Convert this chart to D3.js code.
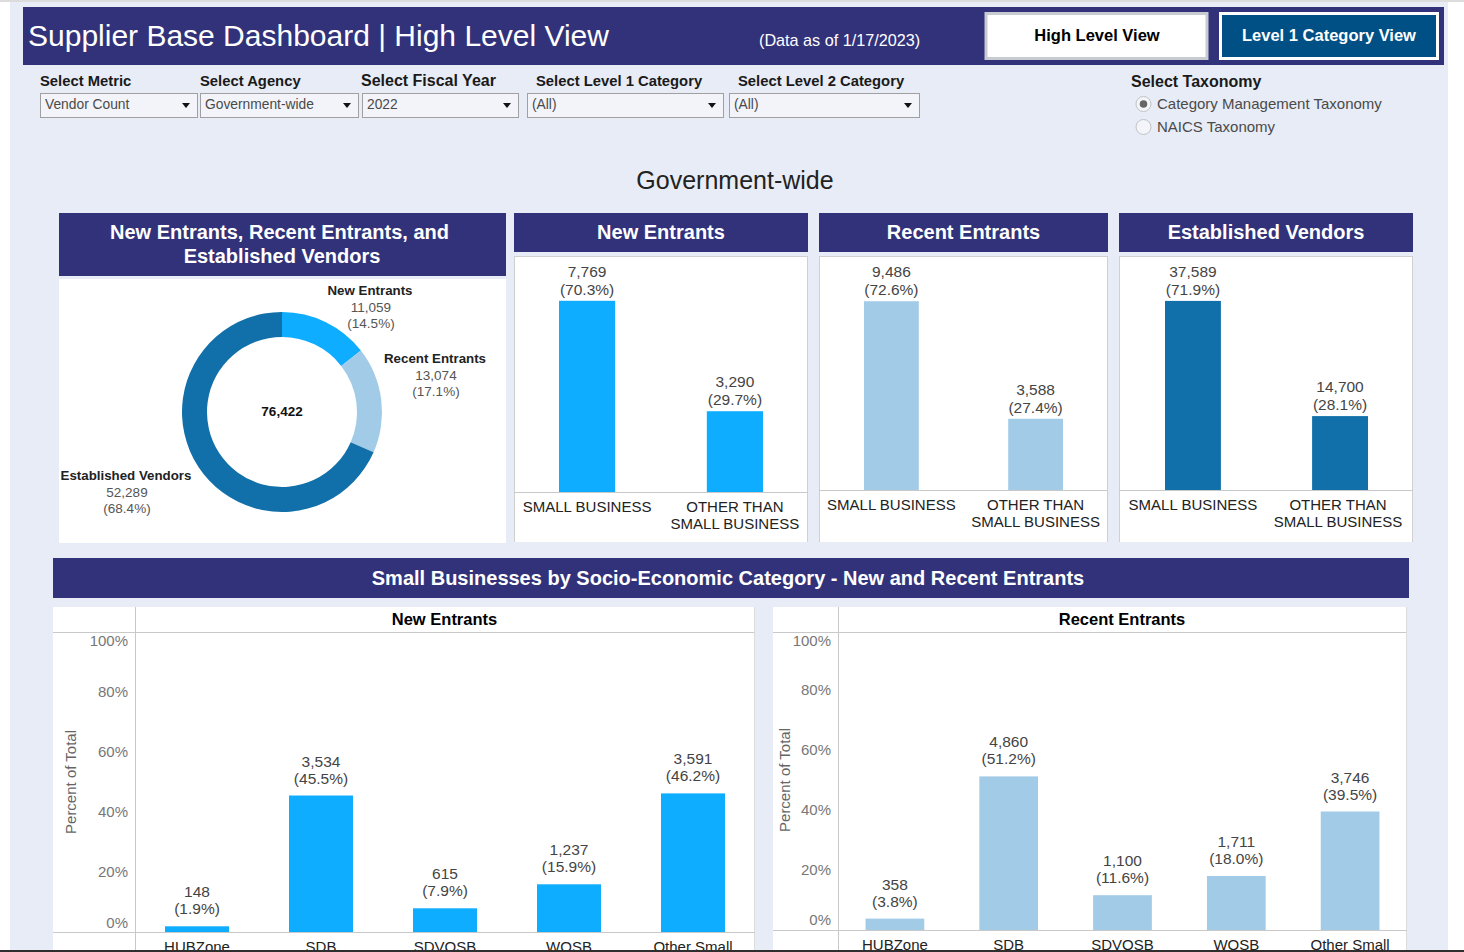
<!DOCTYPE html>
<html>
<head>
<meta charset="utf-8">
<title>Supplier Base Dashboard</title>
<script src="https://cdn.jsdelivr.net/npm/d3@7"></script>
<style>
  html, body { margin: 0; padding: 0; background: #fff; overflow: hidden; }
  svg { display: block; font-family: "Liberation Sans", Arial, sans-serif; }
</style>
</head>
<body>
<svg id="dash" width="1464" height="952"></svg>
<script>
// ---- Data ----
const donutNames = ["New Entrants", "Recent Entrants", "Established Vendors"];
const donutCounts = [11059, 13074, 52289];
const donutShares = ["14.5%", "17.1%", "68.4%"];
const donutTotal = "76,422";

const sizeCats = ["SMALL BUSINESS", "OTHER THAN SMALL BUSINESS"];
const newSizeCounts = [7769, 3290];
const newSizePct = [70.3, 29.7];
const recentSizeCounts = [9486, 3588];
const recentSizePct = [72.6, 27.4];
const estSizeCounts = [37589, 14700];
const estSizePct = [71.9, 28.1];

const socioCats = ["HUBZone", "SDB", "SDVOSB", "WOSB", "Other Small"];
const newSocioCounts = [148, 3534, 615, 1237, 3591];
const newSocioPct = [1.9, 45.5, 7.9, 15.9, 46.2];
const recentSocioCounts = [358, 4860, 1100, 1711, 3746];
const recentSocioPct = [3.8, 51.2, 11.6, 18.0, 39.5];
const pctTicks = [0, 20, 40, 60, 80, 100];

const filterLabels = ["Select Metric", "Select Agency", "Select Fiscal Year", "Select Level 1 Category", "Select Level 2 Category"];
const filterValues = ["Vendor Count", "Government-wide", "2022", "(All)", "(All)"];
const taxonomyOptions = ["Category Management Taxonomy", "NAICS Taxonomy"];

// ---- Colors ----
const NAVY = "#32327a";
const BRIGHT = "#0eadff";
const PALE = "#a2cbe8";
const DEEP = "#1170aa";
const RULE = "#c9c9c9";
const fmt = d3.format(",");

const svg = d3.select("#dash");

function rect(parent, x, y, w, h, fill, stroke, sw) {
  return parent.append("rect").attr("x", x).attr("y", y).attr("width", w).attr("height", h)
    .attr("fill", fill).attr("stroke", stroke || "none").attr("stroke-width", sw || 0);
}

function label(parent, x, y, str, size, color, weight, anchor) {
  return parent.append("text").attr("x", x).attr("y", y).text(str)
    .attr("font-size", size).attr("fill", color)
    .attr("font-weight", weight || "normal")
    .attr("text-anchor", anchor || "start");
}

// ---- Page background + top bar ----
rect(svg, 0, 0, 1464, 2, "#dcdcdc");
rect(svg, 10, 2, 1438, 948, "#e7ecf6");
rect(svg, 23, 7, 1421, 58, NAVY);
label(svg, 28, 46, "Supplier Base Dashboard | High Level View", 30, "#fff");
label(svg, 759, 46, "(Data as of 1/17/2023)", 16.2, "#fff");

rect(svg, 986, 13.5, 221, 45, "#fff", "#c8cbd2", 3);
label(svg, 1097, 41, "High Level View", 16.5, "#000", "bold", "middle");
rect(svg, 1220.5, 13.5, 217, 45, "#005085", "#fff", 3);
label(svg, 1329, 41, "Level 1 Category View", 16.5, "#fff", "bold", "middle");

// ---- Filter row ----
const filterBoxes = [[40, 158], [200, 159], [362, 157], [527, 197], [729, 191]];
const filterLabelX = [40, 200, 361, 536, 738];
filterLabels.forEach((name, i) => {
  const [bx, bw] = filterBoxes[i];
  label(svg, filterLabelX[i], 86, name, i === 2 ? 16 : 14.8, "#1a1a1a", "bold");
  rect(svg, bx + 0.5, 93.5, bw - 1, 24, "#f2f4fa", "#a0a0a0", 1);
  label(svg, bx + 5, 109, filterValues[i], 13.8, "#4a4a4a");
  const ax = bx + bw - 12;
  svg.append("path").attr("d", `M${ax - 4},103 h8 l-4,5 z`).attr("fill", "#111");
});

label(svg, 1131, 87, "Select Taxonomy", 16, "#1a1a1a", "bold");
taxonomyOptions.forEach((name, i) => {
  const cy = 104 + i * 23;
  svg.append("circle").attr("cx", 1143.5).attr("cy", cy).attr("r", 7.5)
    .attr("fill", "#f4f5fa").attr("stroke", "#c2c2c2").attr("stroke-width", 1);
  if (i === 0) svg.append("circle").attr("cx", 1143.5).attr("cy", cy).attr("r", 3.8).attr("fill", "#666");
  label(svg, 1157, cy + 5, name, 15, "#4a4a4a");
});

label(svg, 735, 189, "Government-wide", 25, "#222", "normal", "middle");

// ---- Donut ----
rect(svg, 59, 213, 447, 63, NAVY);
label(svg, 279.5, 239, "New Entrants, Recent Entrants, and", 20, "#fff", "bold", "middle");
label(svg, 282, 263, "Established Vendors", 20, "#fff", "bold", "middle");
rect(svg, 59, 279, 447, 264, "#fff");

const donutColor = d3.scaleOrdinal().domain(donutNames).range([BRIGHT, PALE, DEEP]);
const pie = d3.pie().sort(null);
const arc = d3.arc().innerRadius(75).outerRadius(100);
const donut = svg.append("g").attr("transform", "translate(282,412)");
donut.selectAll("path")
  .data(pie(donutCounts))
  .join("path")
  .attr("d", arc)
  .attr("fill", (d, i) => donutColor(donutNames[i]));
label(donut, 0, 4, donutTotal, 13.5, "#111", "bold", "middle");

const donutLabelPos = [[370, 295], [435, 363], [126, 480]];
donutNames.forEach((name, i) => {
  const [lx, ly] = donutLabelPos[i];
  label(svg, lx, ly, name, 13.3, "#222", "bold", "middle");
  label(svg, lx + 1, ly + 16.5, fmt(donutCounts[i]), 13.5, "#555", "normal", "middle");
  label(svg, lx + 1, ly + 33, `(${donutShares[i]})`, 13.5, "#555", "normal", "middle");
});

// ---- Small vs other-than-small panels ----
function sizePanel(opts) {
  const { x0, x1, base, pxPerPct, title, counts, pct, color, bars } = opts;
  rect(svg, x0, 213, x1 - x0, 39, NAVY);
  label(svg, (x0 + x1) / 2, 239, title, 20, "#fff", "bold", "middle");
  rect(svg, x0 + 0.5, 256.5, x1 - x0 - 1, 286.5, "#fff", "#d0d0d0", 1);
  svg.append("rect").attr("x", x0).attr("y", 542).attr("width", x1 - x0 + 1).attr("height", 2).attr("fill", "#e7ecf6");

  const x = d3.scaleBand().domain(sizeCats).range(bars).paddingInner(0.62).paddingOuter(0);
  const y = d3.scaleLinear().domain([0, 100]).range([base, base - pxPerPct * 100]);
  const g = svg.append("g");

  g.selectAll("rect")
    .data(sizeCats)
    .join("rect")
    .attr("x", d => x(d))
    .attr("y", (d, i) => y(pct[i]))
    .attr("width", x.bandwidth())
    .attr("height", (d, i) => base - y(pct[i]))
    .attr("fill", color);

  sizeCats.forEach((c, i) => {
    const cx = x(c) + x.bandwidth() / 2;
    label(g, cx, y(pct[i]) - 24, fmt(counts[i]), 15.5, "#444", "normal", "middle");
    label(g, cx, y(pct[i]) - 6, `(${pct[i].toFixed(1)}%)`, 15.5, "#444", "normal", "middle");
  });

  g.append("line").attr("x1", x0).attr("x2", x1).attr("y1", base + 0.5).attr("y2", base + 0.5).attr("stroke", RULE);
  label(g, x(sizeCats[0]) + x.bandwidth() / 2, base + 20, "SMALL BUSINESS", 15, "#222", "normal", "middle");
  label(g, x(sizeCats[1]) + x.bandwidth() / 2 + opts.shift, base + 20, "OTHER THAN", 15, "#222", "normal", "middle");
  label(g, x(sizeCats[1]) + x.bandwidth() / 2 + opts.shift, base + 37, "SMALL BUSINESS", 15, "#222", "normal", "middle");
}

sizePanel({ x0: 514, x1: 808, base: 492, pxPerPct: 2.72, title: "New Entrants",
  counts: newSizeCounts, pct: newSizePct, color: BRIGHT, bars: [559, 763], shift: 0 });
sizePanel({ x0: 819, x1: 1108, base: 490, pxPerPct: 2.6, title: "Recent Entrants",
  counts: recentSizeCounts, pct: recentSizePct, color: PALE, bars: [864, 1063], shift: 0 });
sizePanel({ x0: 1119, x1: 1413, base: 490, pxPerPct: 2.63, title: "Established Vendors",
  counts: estSizeCounts, pct: estSizePct, color: DEEP, bars: [1165, 1368], shift: -2 });

// ---- Socio-economic section ----
rect(svg, 53, 558, 1356, 40, NAVY);
label(svg, 728, 585, "Small Businesses by Socio-Economic Category - New and Recent Entrants", 20, "#fff", "bold", "middle");

function socioPanel(opts) {
  const { x0, x1, xAxis, base, title, counts, pct, color } = opts;
  rect(svg, x0, 607, x1 - x0, 345, "#fff");
  const g = svg.append("g");
  const x = d3.scaleBand().domain(socioCats).range([xAxis, x1]).paddingInner(0.484).paddingOuter(0.242);
  const y = d3.scaleLinear().domain([0, 100]).range([base, base - 300]);

  g.append("line").attr("x1", x0).attr("x2", x1).attr("y1", 632.5).attr("y2", 632.5).attr("stroke", RULE);
  g.append("line").attr("x1", xAxis + 0.5).attr("x2", xAxis + 0.5).attr("y1", 607).attr("y2", 952).attr("stroke", RULE);
  g.append("line").attr("x1", x1 - 0.5).attr("x2", x1 - 0.5).attr("y1", 607).attr("y2", 952).attr("stroke", "#dcdcdc");
  label(g, (xAxis + x1) / 2 - 0.5, 625, title, 16.5, "#000", "bold", "middle");

  const yAxis = g.append("g")
    .attr("transform", `translate(${xAxis - 4},0)`)
    .call(d3.axisLeft(y).tickValues(pctTicks).tickFormat(d => d + "%").tickSize(0));
  yAxis.select(".domain").remove();
  yAxis.selectAll("text")
    .attr("font-size", 15)
    .attr("font-family", "'Liberation Sans', Arial, sans-serif")
    .attr("fill", "#777")
    // end labels get pushed inside the pane like in the original
    .attr("dy", d => d === 100 ? opts.topDy : d === 0 ? opts.bottomDy : "0.32em");

  g.append("text")
    .attr("transform", `translate(${x0 + opts.titleOff},${base - 150}) rotate(-90)`)
    .attr("text-anchor", "middle")
    .attr("font-size", 15)
    .attr("fill", "#666")
    .text("Percent of Total");

  g.selectAll("rect.bar")
    .data(socioCats)
    .join("rect")
    .attr("class", "bar")
    .attr("x", d => x(d))
    .attr("y", (d, i) => y(pct[i]))
    .attr("width", x.bandwidth())
    .attr("height", (d, i) => base - y(pct[i]))
    .attr("fill", color);

  socioCats.forEach((c, i) => {
    const cx = x(c) + x.bandwidth() / 2;
    label(g, cx, y(pct[i]) - 29, fmt(counts[i]), 15.5, "#444", "normal", "middle");
    label(g, cx, y(pct[i]) - 12, `(${pct[i].toFixed(1)}%)`, 15.5, "#444", "normal", "middle");
    label(g, cx, base + 20, c, 15, "#222", "normal", "middle");
  });

  g.append("line").attr("x1", x0).attr("x2", x1).attr("y1", base + 0.5).attr("y2", base + 0.5).attr("stroke", RULE);
}

socioPanel({ x0: 53, x1: 755, xAxis: 135, base: 932, title: "New Entrants",
  counts: newSocioCounts, pct: newSocioPct, color: BRIGHT,
  topDy: "0.88em", bottomDy: "-0.27em", titleOff: 23 });
socioPanel({ x0: 773, x1: 1407, xAxis: 838, base: 930, title: "Recent Entrants",
  counts: recentSocioCounts, pct: recentSocioPct, color: PALE,
  topDy: "1.02em", bottomDy: "-0.4em", titleOff: 17 });

// window edge strip that cuts off the bottom labels
rect(svg, 0, 950, 1464, 2, "#2f2f2f");
</script>
</body>
</html>
